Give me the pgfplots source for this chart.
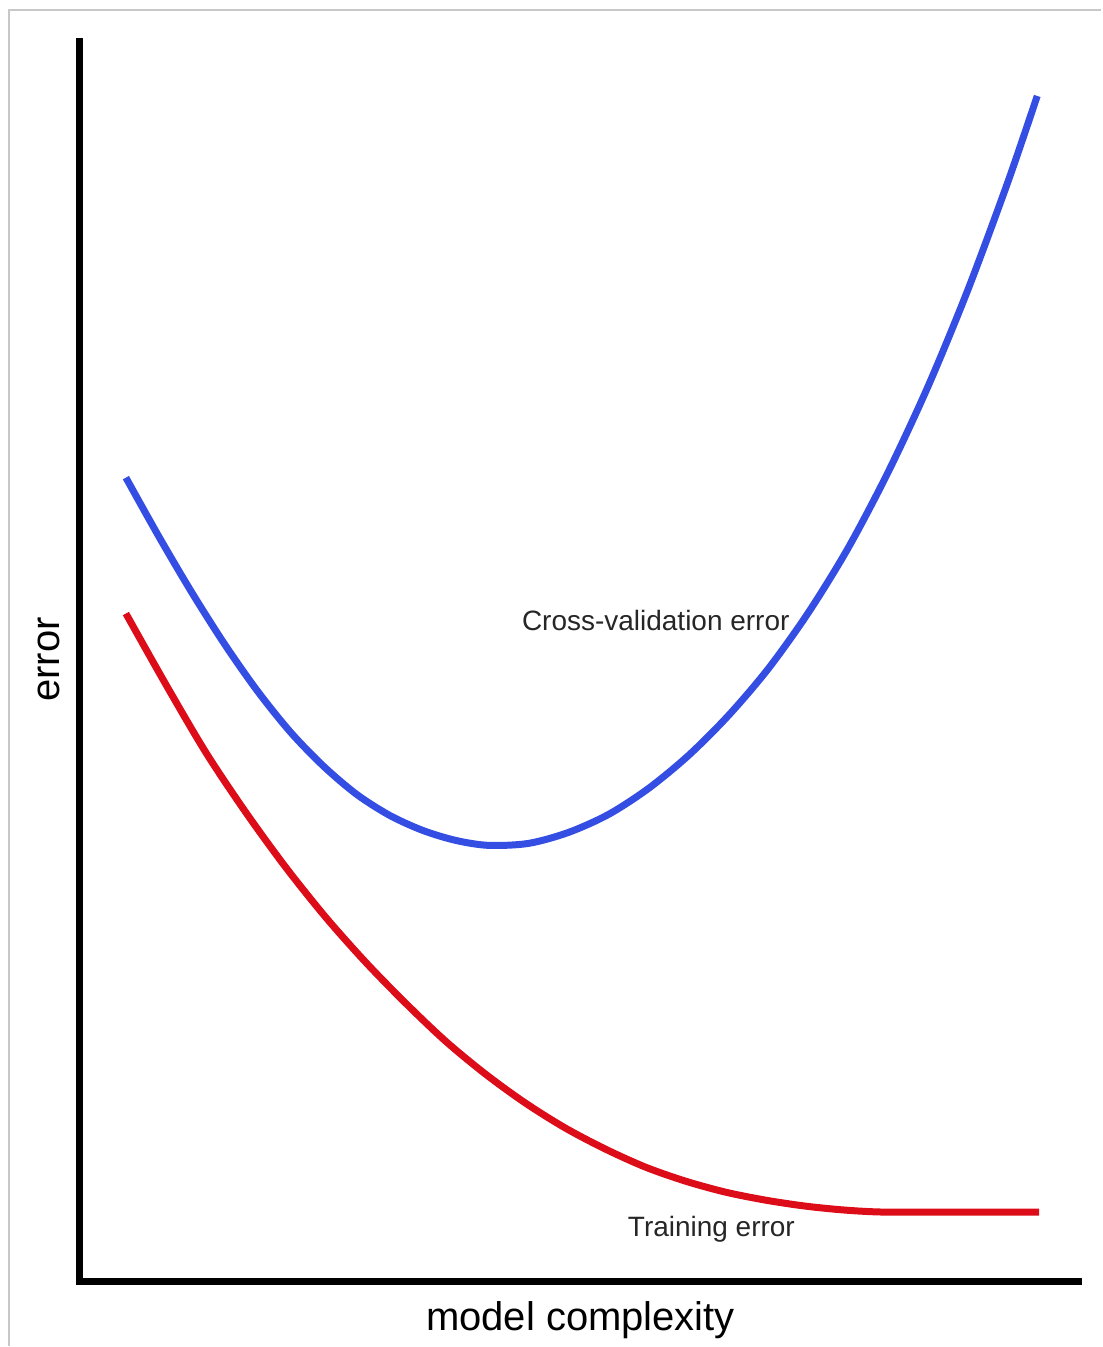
\documentclass[border=0pt]{standalone}
\usepackage{fontspec}
\setmainfont{Liberation Sans}
\usepackage{pgfplots}
\pgfplotsset{compat=1.18}
\definecolor{cvblue}{RGB}{52,78,228}
\definecolor{trred}{RGB}{220,12,24}
\definecolor{framegray}{RGB}{200,200,200}

\begin{document}
\begin{tikzpicture}
\begin{axis}[
    scale only axis,
    width=551pt, height=673.5pt,
    xmin=0, xmax=1102, ymin=0, ymax=1347,
    y dir=reverse,
    hide axis,
    clip=false,
]
% page extent and the thin frame of the scan
\path (axis cs:0,0) (axis cs:1102,1347);
\draw[framegray, line width=1pt] (axis cs:9,1347) -- (axis cs:9,10) -- (axis cs:1102,10);

% axes
\draw[black, line width=3.5pt] (axis cs:79.5,38) -- (axis cs:79.5,1282) -- (axis cs:1083,1282);

% cross-validation error
\addplot[cvblue, line width=3.5pt, smooth, no marks] coordinates {
    (126,478) (159,537) (192,593) (225,645) (258,692) (291,733) (324,767)
    (357,795) (390,816) (423,831) (456,841) (489,846) (529,844) (569,833)
    (609,815) (649,789) (689,756) (729,716) (769,669) (809,613) (849,548)
    (889,472) (929,386) (969,289) (1009,181) (1038,96)
};

% training error
\addplot[trred, line width=3.5pt, smooth, no marks] coordinates {
    (126,614) (166,685) (206,753) (246,813) (286,868) (326,918) (366,963)
    (406,1004) (446,1042) (486,1075) (526,1104) (566,1129) (606,1150)
    (646,1168) (686,1182) (726,1193) (766,1201) (806,1207) (846,1211)
    (886,1213) (960,1213) (1040,1213)
};

\node[anchor=base west, inner sep=0pt, font=\fontsize{14pt}{16pt}\selectfont, text=black!85]
    at (axis cs:522,631) {Cross-validation error};
\node[anchor=base west, inner sep=0pt, font=\fontsize{14pt}{16pt}\selectfont, text=black!85]
    at (axis cs:628,1237) {Training error};
\node[anchor=base, inner sep=0pt, font=\fontsize{20pt}{24pt}\selectfont]
    at (axis cs:581,1331) {model complexity};
\node[anchor=base, rotate=90, inner sep=0pt, font=\fontsize{20pt}{24pt}\selectfont]
    at (axis cs:60,660) {error};
\end{axis}
\end{tikzpicture}
\end{document}
